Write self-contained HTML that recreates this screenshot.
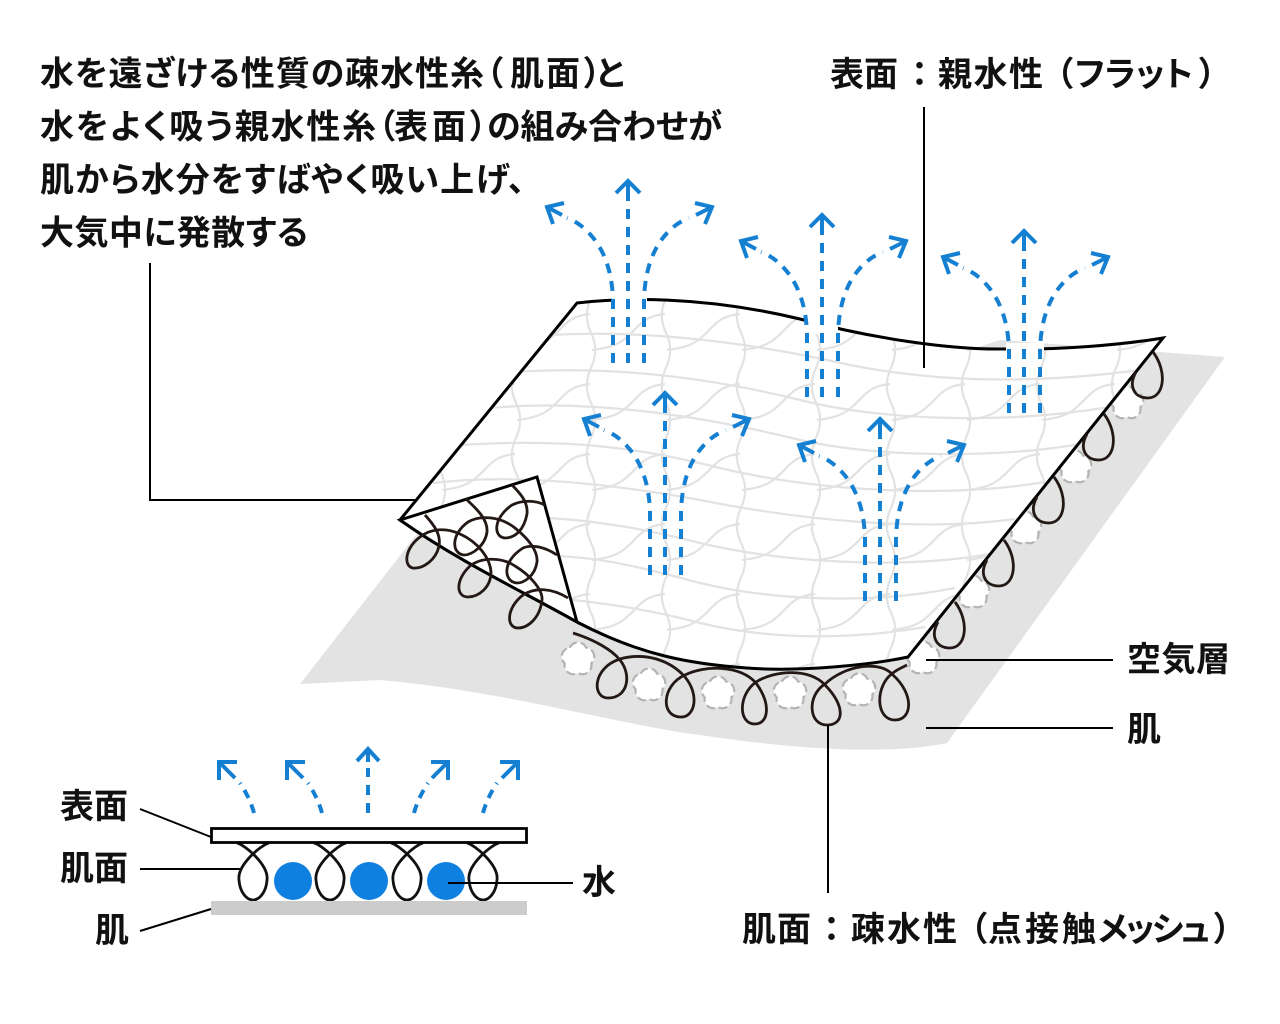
<!DOCTYPE html>
<html lang="ja">
<head>
<meta charset="utf-8">
<title>Diagram</title>
<style>
html,body{margin:0;padding:0;background:#fff;}
svg{display:block;}
text{font-family:"Liberation Sans","Noto Sans CJK JP",sans-serif;font-weight:700;font-size:34px;fill:#111;font-feature-settings:"palt";}
</style>
</head>
<body>
<svg width="1280" height="1024" viewBox="0 0 1280 1024" xmlns="http://www.w3.org/2000/svg">
<defs>
  <pattern id="mesh" patternUnits="userSpaceOnUse" width="75" height="70" patternTransform="translate(580 300)">
    <g fill="none" stroke="#e2e2e2" stroke-width="2.200">
      <path d="M10,0 C5,13 6,23 12,35 C17,47 16,58 10,70"/>
      <path d="M85,14 C62,16 58,28 48,36 C40,44 30,48 12,50"/>
      <path d="M10,14 C-13,16 -17,28 -27,36"/>
    </g>
  </pattern>
  <clipPath id="sheetclip">
    <path d="M577,303 C620,298 700,295 800,319 C870,338 950,350 1005,349 C1060,350 1120,345 1163,338 L908,657 C870,665 800,672 747,668 C690,664 640,655 577,622 C520,590 460,562 400,520 Z"/>
  </clipPath>
  <path id="flower" d="M-8.200,-11.300 A9,9 0 0 1 8.200,-11.300 A9,9 0 0 1 13.300,4.300 A9,9 0 0 1 0,14 A9,9 0 0 1 -13.300,4.300 A9,9 0 0 1 -8.200,-11.300 Z" fill="#fff" stroke="#b4b4b4" stroke-width="2.200" stroke-dasharray="9 4"/>
  <path id="rloop" d="M1136,372 C1128,386 1134,398 1148,398 C1164,398 1168,372 1153,352" fill="none" stroke="#231815" stroke-width="2.800"/>
  <g id="arrows" fill="none" stroke="#1580d2" stroke-width="4">
    <path d="M628,363 V200" stroke-dasharray="10 8"/>
    <path d="M613,363 L613,300 C612,265 600,240 580,225 C576,222 572,220 567,218" stroke-dasharray="10 8"/>
    <path d="M644,363 L644,300 C645,265 656,240 676,225 C680,222 684,220 689,218" stroke-dasharray="10 8"/>
    <path d="M616,193 L628,181 L640,193 M628,181 V200"/>
    <path d="M564,203 L547,207 L553,224 M547,207 L562,215"/>
    <path d="M695,203 L712,207 L705,224 M712,207 L696,215"/>
  </g>
  <path id="iloop" d="M-16,843 C-8,845 16,865 14,880 C13,893 6,900 0,900 C-6,900 -13,893 -14,880 C-16,865 8,845 16,843" fill="none" stroke="#111" stroke-width="2.800"/>
</defs>

<!-- skin -->
<path d="M1225,357 L947,743 C890,755 800,750 700,735 C620,725 500,690 380,680 L300,684 L420,530 L1000,340 Z" fill="#e3e3e3"/>

<!-- air flowers -->
<use href="#flower" x="1127" y="403"/>
<use href="#flower" x="1075" y="467"/>
<use href="#flower" x="1025" y="528"/>
<use href="#flower" x="973" y="592"/>
<use href="#flower" x="923" y="658"/>
<use href="#flower" x="859" y="690"/>
<use href="#flower" x="790" y="693"/>
<use href="#flower" x="718" y="693"/>
<use href="#flower" x="649" y="685"/>
<use href="#flower" x="578" y="659"/>

<!-- sheet -->
<path d="M577,303 C620,298 700,295 800,319 C870,338 950,350 1005,349 C1060,350 1120,345 1163,338 L908,657 C870,665 800,672 747,668 C690,664 640,655 577,622 C520,590 460,562 400,520 Z" fill="#fff"/>
<g clip-path="url(#sheetclip)">
  <rect x="380" y="290" width="800" height="390" fill="url(#mesh)"/>
  <g fill="none" stroke="#e2e2e2" stroke-width="2.200">
    <path d="M550,335 C640,330 740,340 850,365 C950,385 1050,382 1140,370"/>
    <path d="M515,372 C620,365 720,380 800,400 C880,420 1000,425 1110,407"/>
    <path d="M490,408 C600,398 720,420 800,440 C880,458 1000,458 1080,444"/>
    <path d="M460,445 C570,438 640,448 720,468 C820,492 950,498 1045,482"/>
    <path d="M433,483 C500,475 590,480 700,500 C800,520 920,532 1015,519"/>
    <path d="M520,517 C590,518 650,530 700,543 C780,562 900,570 990,554"/>
    <path d="M540,556 C600,555 650,570 700,583 C770,600 870,605 955,588"/>
    <path d="M573,600 C620,605 660,612 700,623 C770,640 850,640 925,627"/>
  </g>
</g>
<path d="M577,303 C620,298 700,295 800,319 C870,338 950,350 1005,349 C1060,350 1120,345 1163,338 L908,657 C870,665 800,672 747,668 C690,664 640,655 577,622 C520,590 460,562 400,520 Z" fill="none" stroke="#000" stroke-width="3" stroke-linejoin="miter"/>

<!-- gaps in the top edge -->
<rect x="612" y="294" width="35" height="10" fill="#fff"/>
<rect x="804" y="314" width="34" height="20" fill="#fff"/>
<rect x="1006" y="343" width="38" height="12" fill="#fff"/>

<!-- fold -->
<path d="M400,520 L537,477 L577,622 C520,590 460,562 400,520 Z" fill="#fff" stroke="#000" stroke-width="3" stroke-linejoin="miter"/>

<!-- loops -->
<g fill="none" stroke="#231815" stroke-width="2.800">
  <path d="M425,515 C435,526 441,535 439,546 C436,560 423,569 413,568 C403,566 405,548 420,537 C430,529 445,527 460,534 C478,542 490,558 491,572 C491,588 478,597 468,597 C456,597 455,580 470,566 C480,558 500,556 515,566 C530,575 543,590 542,600 C540,618 528,628 518,628 C506,628 506,608 523,595 C535,587 552,588 568,598"/>
  <path d="M466,499 C478,510 488,520 487,532 C485,546 472,555 464,555 C452,554 450,535 468,522 C480,515 500,516 515,528 C530,540 538,552 537,562 C535,576 524,583 517,583 C504,582 501,562 523,548 C532,544 545,547 557,555"/>
  <path d="M512,485 C522,495 528,503 527,514 C524,530 515,538 505,538 C493,537 493,518 512,505 C522,500 535,500 545,505"/>
  <path d="M573,633 C595,640 612,650 620,660 C632,675 628,698 608,698 C592,698 592,668 620,659 C645,652 670,660 685,677 C700,695 695,718 680,717 C660,716 662,685 685,675 C705,665 740,665 756,683 C772,705 768,724 755,724 C738,724 738,695 756,682 C775,670 810,668 825,685 C845,705 845,725 827,725 C808,725 807,695 825,684 C845,665 880,660 893,675 C915,695 912,720 895,720 C875,720 875,685 893,673 C896,670 903,667 907,665"/>
</g>
<use href="#rloop"/>
<use href="#rloop" x="-49" y="62"/>
<use href="#rloop" x="-99" y="125"/>
<use href="#rloop" x="-149" y="188"/>
<use href="#rloop" x="-198" y="250"/>

<!-- blue arrows -->
<use href="#arrows"/>
<use href="#arrows" x="194" y="34"/>
<use href="#arrows" x="396" y="50"/>
<use href="#arrows" x="37" y="212"/>
<use href="#arrows" x="252" y="238"/>

<!-- leaders -->
<g fill="none" stroke="#000" stroke-width="2">
  <path d="M150,263 V500 H417"/>
  <path d="M924,107 V368"/>
  <path d="M926,660 H1113"/>
  <path d="M926,728 H1113"/>
  <path d="M828,725 V893"/>
</g>

<!-- inset -->
<use href="#iloop" x="253"/>
<use href="#iloop" x="330"/>
<use href="#iloop" x="407"/>
<use href="#iloop" x="483"/>
<rect x="211.500" y="828.500" width="315" height="14" fill="#fff" stroke="#000" stroke-width="2.800"/>
<rect x="211" y="901" width="316" height="14" fill="#ccc"/>
<circle cx="293" cy="881" r="19" fill="#0f7fe0"/>
<circle cx="369" cy="881" r="19" fill="#0f7fe0"/>
<circle cx="446" cy="881" r="19" fill="#0f7fe0"/>
<g fill="none" stroke="#000" stroke-width="2">
  <path d="M140,809 L211,837"/>
  <path d="M140,869 H240"/>
  <path d="M140,931 L211,909"/>
  <path d="M448,883 H573"/>
</g>
<g fill="none" stroke="#1580d2" stroke-width="4">
  <path d="M254,813 C251,802 246,792 240,783" stroke-dasharray="9 7"/>
  <path d="M322,813 C319,802 314,792 308,783" stroke-dasharray="9 7"/>
  <path d="M368,813 V768" stroke-dasharray="10 8"/>
  <path d="M414,813 C417,802 422,792 428,783" stroke-dasharray="9 7"/>
  <path d="M483,813 C486,802 491,792 497,783" stroke-dasharray="9 7"/>
  <path d="M219,780 V762 H237 M219,762 L235,778"/>
  <path d="M287,780 V762 H305 M287,762 L303,778"/>
  <path d="M357,761 L368,749 L379,761 M368,749 V762"/>
  <path d="M431,762 H448 V780 M448,762 L432,778"/>
  <path d="M500,762 H518 V780 M518,762 L502,778"/>
</g>

<!-- text -->
<text x="40" y="85.500" textLength="444" lengthAdjust="spacing">水を遠ざける性質の疎水性糸</text>
<text x="486" y="85.500">（</text>
<text x="510" y="85.500" textLength="70" lengthAdjust="spacing">肌面</text>
<text x="584" y="85.500">）</text>
<text x="596" y="85.500">と</text>

<text x="40" y="138.500" textLength="336" lengthAdjust="spacing">水をよく吸う親水性糸</text>
<text x="378" y="138.500">（</text>
<text x="394" y="138.500" textLength="72" lengthAdjust="spacing">表面</text>
<text x="470" y="138.500">）</text>
<text x="487" y="138.500" textLength="235" lengthAdjust="spacing">の組み合わせが</text>

<text x="40" y="191.500" textLength="485" lengthAdjust="spacing">肌から水分をすばやく吸い上げ、</text>
<text x="40" y="244.500" textLength="268" lengthAdjust="spacing">大気中に発散する</text>

<text x="830" y="86" textLength="68" lengthAdjust="spacing">表面</text>
<text x="911" y="86">：</text>
<text x="938" y="86" textLength="105" lengthAdjust="spacing">親水性</text>
<text x="1056" y="86">（</text>
<text x="1075" y="86" textLength="118" lengthAdjust="spacing">フラット</text>
<text x="1199" y="86">）</text>

<text x="742" y="941" textLength="69" lengthAdjust="spacing">肌面</text>
<text x="823" y="941">：</text>
<text x="851" y="941" textLength="106" lengthAdjust="spacing">疎水性</text>
<text x="970" y="941">（</text>
<text x="988" y="941" textLength="108" lengthAdjust="spacing">点接触</text>
<text x="1098" y="941" textLength="112" lengthAdjust="spacing">メッシュ</text>
<text x="1214" y="941">）</text>

<text x="1127" y="671" textLength="103" lengthAdjust="spacing">空気層</text>
<text x="1127" y="741">肌</text>
<text x="60" y="818" textLength="68" lengthAdjust="spacing">表面</text>
<text x="60" y="880" textLength="68" lengthAdjust="spacing">肌面</text>
<text x="95" y="942">肌</text>
<text x="582" y="894">水</text>
</svg>
</body>
</html>
